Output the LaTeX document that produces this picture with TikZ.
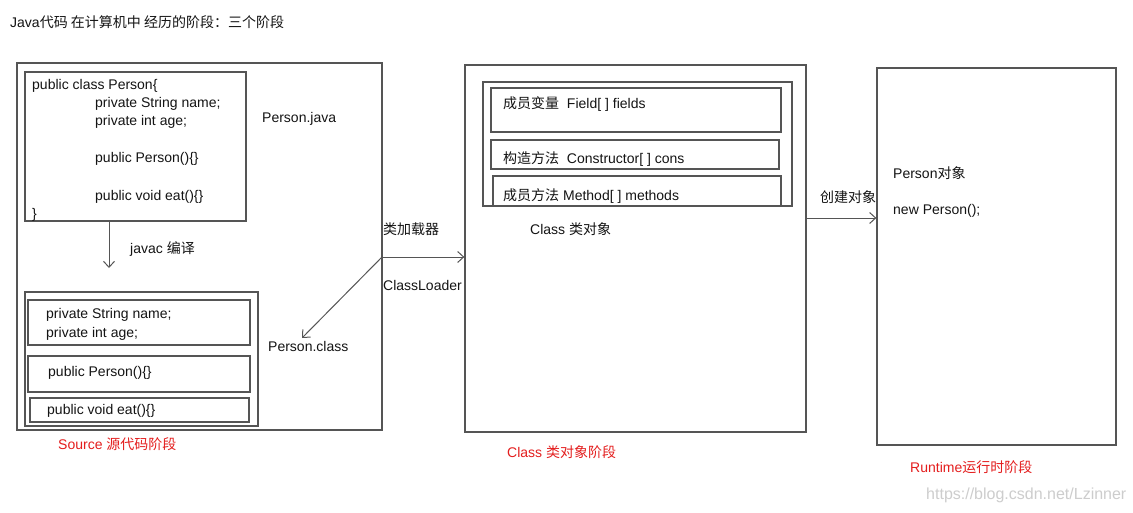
\documentclass[tikz,border=0pt]{standalone}
\usepackage{fontspec}
\setmainfont{Liberation Sans}
\newfontfamily\cjk{Noto Sans CJK SC}
\usetikzlibrary{arrows.meta,fit}
\definecolor{linec}{RGB}{85,85,85}
\definecolor{txt}{RGB}{20,20,20}
\definecolor{redc}{RGB}{228,30,30}
\definecolor{wm}{RGB}{205,205,205}
\begin{document}
\begin{tikzpicture}[x=1pt,y=-1pt,
  box/.style={draw=linec,line width=1.3pt,inner sep=0pt},
  lbl/.style={anchor=west,inner sep=0pt,yshift=-1.5pt,text=txt,font=\fontsize{14}{16}\selectfont},
  stage/.style={lbl,text=redc},
  arr/.style={draw=linec,line width=1pt,-{Straight Barb[length=6pt,width=11pt]}}]
\useasboundingbox[fill=white] (0,0) rectangle (1133,512);

% title
\node[lbl] (title) at (10,21) {Java{\cjk 代码 在计算机中 经历的阶段：三个阶段}};

% ---- Source stage ----
\node[box,fit={(17,63) (382,430)}] (srcbox) {};
\node[box,fit={(25,72) (246,221)}] (javabox) {};
\node[lbl] (j1) at (32,84) {public class Person\{};
\node[lbl] (j2) at (95,102) {private String name;};
\node[lbl] (j3) at (95,120) {private int age;};
\node[lbl] (j4) at (95,157) {public Person()\{\}};
\node[lbl] (j5) at (95,195) {public void eat()\{\}};
\node[lbl] (j6) at (32,213) {\}};
\node[lbl] (pjava) at (262,117) {Person.java};
\node[lbl] (javac) at (130,248) {javac {\cjk 编译}};
\coordinate (javacend) at (109,268);
\draw[arr] (javabox.south -| javacend) -- (javacend);

\node[box,fit={(25,292) (258,426)}] (cfile) {};
\node[box,fit={(28,300) (250,345)}] (cf1) {};
\node[box,fit={(28,356) (250,392)}] (cf2) {};
\node[box,fit={(30,398) (249,422)}] (cf3) {};
\node[lbl] (c1) at (46,313) {private String name;};
\node[lbl] (c2) at (46,332) {private int age;};
\node[lbl] (c3) at (48,371) {public Person()\{\}};
\node[lbl] (c4) at (47,409) {public void eat()\{\}};
\node[lbl] (pclass) at (268,345) {Person.class};
\node[stage] (srcstage) at (58,443) {Source {\cjk 源代码阶段}};

% ---- ClassLoader ----
\node[lbl] (loadcn) at (383,228) {{\cjk 类加载器}};
\node[lbl] (loaden) at (383,284) {ClassLoader};
\coordinate (cl) at (382,257);
\coordinate (pctip) at (302,338);

% ---- Class stage ----
\node[box,fit={(465,65) (806,432)}] (clsbox) {};
\node[box,fit={(483,82) (792,206)}] (clsinner) {};
\node[box,fit={(491,88) (781,132)}] (m1) {};
\node[box,fit={(491,140) (779,169)}] (m2) {};
\node[box,fit={(493,176) (781,206)}] (m3) {};
\node[lbl] (t1) at (503,103) {{\cjk 成员变量}\ \ Field[ ] fields};
\node[lbl] (t2) at (503,158) {{\cjk 构造方法}\ \ Constructor[ ] cons};
\node[lbl] (t3) at (503,195) {{\cjk 成员方法} Method[ ] methods};
\node[lbl] (clsobj) at (530,228) {Class {\cjk 类对象}};
\node[stage] (clsstage) at (507,451) {Class {\cjk 类对象阶段}};

\draw[arr] (cl) -- (clsbox.west |- cl);
\draw[arr] (cl) -- (pctip);

% ---- Runtime stage ----
\node[box,fit={(877,68) (1116,445)}] (rtbox) {};
\node[lbl] (pobj) at (893,172) {Person{\cjk 对象}};
\node[lbl] (newp) at (893,209) {new Person();};
\node[stage] (rtstage) at (910,466) {Runtime{\cjk 运行时阶段}};
\node[lbl] (create) at (820,196) {{\cjk 创建对象}};
\coordinate (cy) at (0,218);
\draw[arr] (clsbox.east |- cy) -- (rtbox.west |- cy);

% watermark
\node[lbl,text=wm,font=\fontsize{16}{18}\selectfont] (wmark) at (926,494) {https://blog.csdn.net/Lzinner};
\end{tikzpicture}
\end{document}
